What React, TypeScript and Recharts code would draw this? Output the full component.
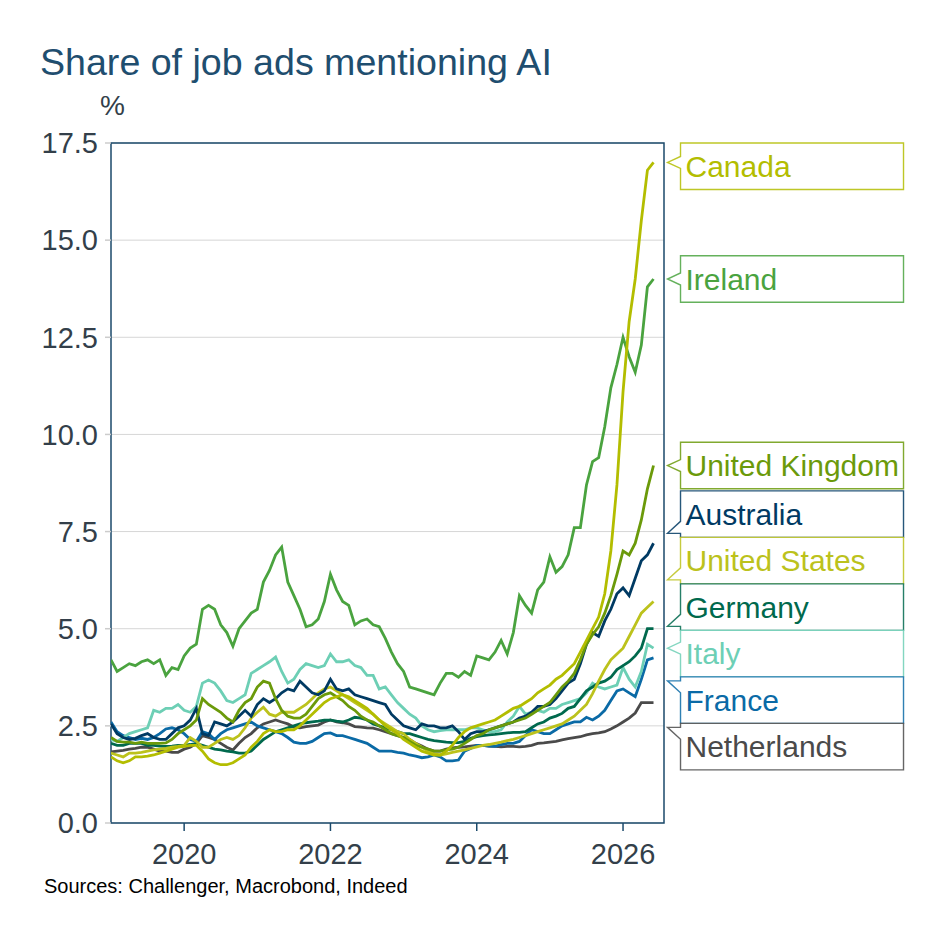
import React from "react";
import {
  LineChart,
  Line,
  XAxis,
  YAxis,
  CartesianGrid,
  ReferenceArea,
  ReferenceDot,
} from "recharts";

// ---------- DATA (monthly, starting Jan 2019) ----------
const START_YEAR = 2019;
const N_MONTHS = 90;
const dates: number[] = Array.from({ length: N_MONTHS }, (_, i) => START_YEAR + i / 12);

const xTicks = [2020, 2022, 2024, 2026];
const yTicks = [0, 2.5, 5, 7.5, 10, 12.5, 15, 17.5];

const canada = [
  1.7, 1.6, 1.55, 1.6, 1.7, 1.7, 1.72, 1.75, 1.8, 1.85, 1.9, 1.95,
  1.97, 2.0, 2.0, 1.85, 1.65, 1.55, 1.5, 1.5, 1.55, 1.65, 1.75, 1.95,
  2.1, 2.3, 2.4, 2.35, 2.35, 2.4, 2.4, 2.5, 2.65, 2.8, 2.95, 3.1,
  3.2, 3.25, 3.3, 3.25, 3.15, 3.05, 2.95, 2.8, 2.65, 2.5, 2.4, 2.3,
  2.15, 2.05, 1.95, 1.85, 1.8, 1.75, 1.75, 1.85, 2.0, 2.2, 2.35, 2.45,
  2.5, 2.55, 2.6, 2.65, 2.75, 2.85, 2.95, 3.0, 3.1, 3.2, 3.35, 3.45,
  3.55, 3.7, 3.8, 3.95, 4.1, 4.4, 4.7, 5.0, 5.3, 5.9, 7.0, 8.7,
  11.1, 12.9, 14.0, 15.5, 16.8, 17.0,
];
const ireland = [
  4.2, 3.9, 4.0, 4.1, 4.05, 4.15, 4.2, 4.1, 4.2, 3.8, 4.0, 3.95,
  4.3, 4.5, 4.6, 5.5, 5.6, 5.5, 5.1, 4.9, 4.55, 5.0, 5.2, 5.4,
  5.5, 6.2, 6.5, 6.9, 7.1, 6.2, 5.85, 5.5, 5.05, 5.1, 5.25, 5.7,
  6.4, 6.0, 5.7, 5.6, 5.1, 5.2, 5.25, 5.1, 5.05, 4.75, 4.4, 4.1,
  3.9, 3.5, 3.45, 3.4, 3.35, 3.3, 3.6, 3.85, 3.85, 3.75, 3.9, 3.8,
  4.3, 4.25, 4.2, 4.4, 4.7, 4.35, 4.9, 5.85, 5.6, 5.4, 6.0, 6.2,
  6.85, 6.45, 6.6, 6.9, 7.6, 7.6, 8.7, 9.3, 9.4, 10.2, 11.2, 11.8,
  12.5, 12.0, 11.6, 12.3, 13.8, 14.0,
];
const unitedKingdom = [
  2.2, 2.1, 2.08, 2.08, 2.05, 2.08, 2.05, 2.05, 2.05, 2.06, 2.15, 2.3,
  2.4, 2.5, 2.65, 3.2, 3.05, 2.95, 2.85, 2.7, 2.6, 2.9, 3.1, 3.2,
  3.5, 3.65, 3.6, 3.2, 2.9, 2.75, 2.7, 2.7, 2.8, 3.0, 3.2, 3.3,
  3.35, 3.25, 3.15, 3.0, 2.9, 2.75, 2.65, 2.6, 2.5, 2.4, 2.3, 2.25,
  2.2, 2.1, 2.0, 1.95, 1.9, 1.85, 1.85, 1.88, 1.9, 1.95, 2.05, 2.15,
  2.25, 2.3, 2.4, 2.45, 2.5, 2.55, 2.6, 2.65, 2.7, 2.8, 2.9, 3.0,
  3.1, 3.3, 3.5, 3.65, 3.85, 4.2, 4.6, 4.85, 5.05, 5.4, 5.85, 6.4,
  7.0, 6.9, 7.2, 7.8, 8.6, 9.2,
];
const australia = [
  2.55, 2.3, 2.2, 2.15, 2.18, 2.25, 2.3, 2.2, 2.15, 2.15, 2.3, 2.45,
  2.5, 2.65, 2.95, 2.3, 2.25, 2.6, 2.55, 2.5, 2.6, 2.75, 2.9, 2.75,
  3.05, 3.2, 3.1, 3.2, 3.35, 3.45, 3.4, 3.65, 3.5, 3.35, 3.3, 3.4,
  3.7, 3.45, 3.4, 3.45, 3.3, 3.25, 3.2, 3.15, 3.1, 3.05, 2.8, 2.65,
  2.5, 2.45, 2.4, 2.55, 2.5, 2.5, 2.45, 2.45, 2.5, 2.35, 2.15, 2.3,
  2.35, 2.35, 2.4, 2.45, 2.5, 2.55, 2.6, 2.7, 2.75, 2.85, 3.0, 3.0,
  3.05, 3.2, 3.4, 3.6, 3.7, 4.1, 4.6, 4.9, 4.8, 5.2, 5.5, 5.9,
  6.05, 5.85, 6.3, 6.75, 6.9, 7.2,
];
const unitedStates = [
  1.8, 1.75, 1.7, 1.8, 1.8, 1.82, 1.85, 1.88, 1.9, 1.92, 1.95, 1.97,
  2.0, 2.2, 2.1, 1.95, 1.95, 2.05, 2.15, 2.2, 2.15, 2.25, 2.45, 2.7,
  2.85, 2.98, 2.8, 2.75, 2.85, 2.85, 2.85, 2.95, 3.05, 3.2, 3.35, 3.45,
  3.5, 3.4, 3.3, 3.2, 3.1, 3.0, 2.9, 2.8, 2.65, 2.55, 2.45, 2.35,
  2.3, 2.15, 2.05, 1.95, 1.85, 1.78, 1.75, 1.78, 1.82, 1.85, 1.88, 1.92,
  1.96, 2.0, 2.02, 2.05, 2.08, 2.12, 2.15, 2.2, 2.25, 2.3, 2.35, 2.4,
  2.45, 2.5, 2.55, 2.65, 2.75, 2.9, 3.05, 3.33, 3.65, 3.95, 4.2, 4.35,
  4.5, 4.8, 5.1, 5.4, 5.55, 5.7,
];
const germany = [
  2.05, 2.0, 2.0, 2.05, 2.05, 2.05, 2.0, 2.0, 1.98, 1.97, 1.98, 2.0,
  2.0, 2.02, 2.05, 2.0, 1.95, 1.9, 1.88, 1.85, 1.83, 1.8, 1.8, 1.85,
  2.0, 2.15, 2.25, 2.35, 2.4, 2.45, 2.5, 2.55, 2.58, 2.6, 2.62, 2.65,
  2.65, 2.62, 2.6, 2.65, 2.72, 2.7, 2.65, 2.55, 2.5, 2.45, 2.4, 2.35,
  2.3, 2.3, 2.25, 2.2, 2.15, 2.12, 2.1, 2.08, 2.07, 2.07, 2.1, 2.18,
  2.22, 2.25, 2.27, 2.28, 2.3, 2.32, 2.33, 2.33, 2.35, 2.45, 2.55, 2.6,
  2.7, 2.75, 2.82, 2.95, 3.0, 3.2, 3.4, 3.5, 3.6, 3.65, 3.75, 3.95,
  4.05, 4.15, 4.3, 4.5, 5.0, 5.0,
];
const italy = [
  2.15, 2.1, 2.2, 2.3, 2.35, 2.4, 2.45, 2.9, 2.85, 2.95, 2.95, 3.05,
  2.9, 2.85, 3.0, 3.6, 3.68, 3.6, 3.4, 3.15, 3.1, 3.2, 3.3, 3.85,
  3.95, 4.05, 4.15, 4.27, 3.9, 3.6, 3.7, 3.95, 4.1, 4.05, 4.0, 4.05,
  4.35, 4.15, 4.15, 4.2, 4.05, 4.0, 3.8, 3.8, 3.45, 3.5, 3.3, 3.1,
  2.95, 2.8, 2.7, 2.5, 2.4, 2.35, 2.38, 2.4, 2.4, 2.4, 2.4, 2.45,
  2.45, 2.4, 2.35, 2.35, 2.4, 2.6, 2.75, 3.0, 2.8, 2.85, 2.9, 2.85,
  2.95, 2.95, 3.05, 3.1, 3.15, 3.2, 3.35, 3.6, 3.5, 3.45, 3.5, 3.55,
  4.0, 3.7, 3.5, 3.9, 4.6, 4.5,
];
const france = [
  2.6, 2.35, 2.25, 2.2, 2.15, 2.18, 2.15, 2.2, 2.3, 2.42, 2.45, 2.4,
  2.3, 2.15, 2.1, 2.35, 2.3, 2.15, 2.3, 2.4, 2.45, 2.5, 2.55, 2.6,
  2.5, 2.45, 2.4, 2.35, 2.3, 2.2, 2.08, 2.05, 2.05, 2.1, 2.2, 2.3,
  2.32, 2.25, 2.25, 2.2, 2.15, 2.1, 2.05, 1.95, 1.85, 1.85, 1.85, 1.82,
  1.8, 1.75, 1.72, 1.68, 1.7, 1.75, 1.7, 1.6, 1.6, 1.62, 1.85, 1.92,
  2.0, 2.0, 1.98, 1.97, 2.02, 2.05, 2.05, 2.1, 2.25, 2.4, 2.35, 2.3,
  2.3, 2.4, 2.5, 2.55, 2.6, 2.6, 2.72, 2.65, 2.75, 2.9, 3.15, 3.4,
  3.45, 3.35, 3.25, 3.7, 4.2, 4.25,
];
const netherlands = [
  1.83, 1.85, 1.87, 1.9, 1.92, 1.95, 1.95, 1.9, 1.85, 1.85, 1.82, 1.82,
  1.9, 1.95, 2.05, 2.25, 2.2, 2.15, 2.05, 1.95, 1.88, 2.05, 2.2, 2.3,
  2.45, 2.55, 2.6, 2.65, 2.6, 2.55, 2.47, 2.45, 2.48, 2.5, 2.52, 2.6,
  2.65, 2.6, 2.58, 2.55, 2.48, 2.47, 2.45, 2.44, 2.4, 2.35, 2.3, 2.25,
  2.2, 2.15, 2.05, 1.98, 1.9, 1.85, 1.85, 1.9, 1.93, 1.95, 1.96, 1.98,
  2.0, 2.0, 1.98, 1.97, 1.96, 1.97, 1.97, 1.96, 1.97, 2.0, 2.05, 2.06,
  2.08, 2.1, 2.14, 2.17, 2.2, 2.22, 2.27, 2.3, 2.32, 2.35, 2.42, 2.5,
  2.6, 2.7, 2.83, 3.1, 3.1, 3.1,
];

const seriesNames = [
  "Canada", "Ireland", "United Kingdom", "Australia", "United States",
  "Germany", "Italy", "France", "Netherlands",
];
const seriesKeys = ["ca", "ie", "uk", "au", "us", "de", "it", "fr", "nl"];
const seriesValues = [
  canada, ireland, unitedKingdom, australia, unitedStates,
  germany, italy, france, netherlands,
];
const seriesColors = [
  "#b3bd00", "#4aa33f", "#6b9a0a", "#003a63", "#bcc21c",
  "#00694d", "#6dcfb5", "#0a6aa6", "#4a4a4a",
];
// draw order (bottom to top)
const drawOrder = [8, 7, 6, 5, 4, 3, 2, 1, 0];

const rows = dates.map((t, i) => {
  const r: Record<string, number> = { t };
  seriesKeys.forEach((k, s) => {
    r[k] = seriesValues[s][i];
  });
  return r;
});

// ---------- LAYOUT ----------
const FONT = "'Liberation Sans', Arial, Helvetica, sans-serif";
const W = 943;
const H = 943;
const M_TOP = 143;
const M_RIGHT = 279;
const Y_AXIS_W = 111;
const X_AXIS_H = 120;
const PLOT_H = H - M_TOP - X_AXIS_H;
const X_MIN = 2019;
const X_MAX = 2026.56;
const Y_MAX = 17.5;
const PX_PER_UNIT = PLOT_H / Y_MAX;
const BOX_H = 46.5;
const BOX_W = 223;
const NAVY = "#1b4a6b";
const TICK_TEXT = "#333f4a";

// label de-overlap (pixel offsets relative to each line's last point)
function labelOffsets(): number[] {
  const last = seriesValues.map((v) => v[v.length - 1]);
  const desired = last.map((v) => M_TOP + (Y_MAX - v) * PX_PER_UNIT);
  const order = desired.map((_, i) => i).sort((a, b) => desired[a] - desired[b]);
  const centerOf = (members: number[]) => {
    const mean = members.reduce((s, i) => s + desired[i], 0) / members.length;
    return Math.max(mean, M_TOP + (members.length * BOX_H) / 2);
  };
  let groups = order.map((i) => ({ members: [i], center: centerOf([i]) }));
  let changed = true;
  while (changed) {
    changed = false;
    for (let g = 0; g < groups.length - 1; g++) {
      const a = groups[g];
      const b = groups[g + 1];
      const aBottom = a.center + (a.members.length * BOX_H) / 2;
      const bTop = b.center - (b.members.length * BOX_H) / 2;
      if (aBottom > bTop + 0.01) {
        const members = [...a.members, ...b.members];
        groups.splice(g, 2, { members, center: centerOf(members) });
        changed = true;
        break;
      }
    }
  }
  const offsets = new Array(seriesValues.length).fill(0);
  groups.forEach((g) => {
    const n = g.members.length;
    g.members.forEach((idx, k) => {
      const pos = g.center - ((n - 1) * BOX_H) / 2 + k * BOX_H;
      offsets[idx] = pos - desired[idx];
    });
  });
  return offsets;
}
const OFFSETS = labelOffsets();

function Callout(props: any) {
  const { cx, cy, offset, color, name } = props;
  if (cx == null || cy == null) return null;
  const boxCy = cy + offset;
  const top = boxCy - BOX_H / 2;
  const bottom = boxCy + BOX_H / 2;
  const left = cx + 27;
  const right = left + BOX_W;
  const tipX = cx + 14;
  const tipY = Math.min(Math.max(cy, top + 4), bottom - 4);
  const base = Math.min(Math.max(cy, top + 10), bottom - 10);
  const b1 = base - 6;
  const b2 = base + 6;
  const d = `M${left},${top} H${right} V${bottom} H${left} V${b2} L${tipX},${tipY} L${left},${b1} Z`;
  return (
    <g>
      <path d={d} fill="#ffffff" stroke={color} strokeOpacity={0.85} strokeWidth={1.4} />
      <text
        x={left + 5}
        y={boxCy + 10.5}
        fontSize={30}
        fontFamily={FONT}
        fill={color}
      >
        {name}
      </text>
    </g>
  );
}

export default function App() {
  return (
    <div
      style={{
        position: "absolute",
        left: 0,
        top: 0,
        width: W,
        height: H,
        background: "#ffffff",
        fontFamily: FONT,
      }}
    >
      <svg
        width={W}
        height={H}
        style={{ position: "absolute", left: 0, top: 0, pointerEvents: "none" }}
      >
        <text x={40} y={75} fontSize={37.6} fill="#1f4e6f" fontFamily={FONT}>
          Share of job ads mentioning AI
        </text>
        <text x={100} y={115} fontSize={28} fill={TICK_TEXT} fontFamily={FONT}>
          %
        </text>
        <text x={44} y={893} fontSize={20} fill="#000000" fontFamily={FONT}>
          Sources: Challenger, Macrobond, Indeed
        </text>
      </svg>
      <div style={{ position: "absolute", left: 0, top: 0 }}>
        <LineChart
          width={W}
          height={H}
          data={rows}
          margin={{ top: M_TOP, right: M_RIGHT, bottom: 0, left: 0 }}
        >
          <CartesianGrid vertical={false} stroke="#d6d6d6" strokeWidth={1} />
          <XAxis
            dataKey="t"
            type="number"
            domain={[X_MIN, X_MAX]}
            ticks={xTicks}
            allowDataOverflow
            height={X_AXIS_H}
            axisLine={false}
            tickLine={{ stroke: NAVY, strokeWidth: 1.5 }}
            tickSize={8}
            tickMargin={12}
            tick={{ fontSize: 29, fill: TICK_TEXT, fontFamily: FONT }}
            interval={0}
          />
          <YAxis
            type="number"
            domain={[0, Y_MAX]}
            ticks={yTicks}
            width={Y_AXIS_W}
            axisLine={false}
            tickLine={{ stroke: "#cccccc", strokeWidth: 1.5 }}
            tickSize={6}
            tickMargin={7}
            tickFormatter={(v: number) => v.toFixed(1)}
            tick={{ fontSize: 29, fill: TICK_TEXT, fontFamily: FONT }}
            interval={0}
          />
          <ReferenceArea
            x1={X_MIN}
            x2={X_MAX}
            y1={0}
            y2={Y_MAX}
            fill="none"
            fillOpacity={0}
            stroke={NAVY}
            strokeWidth={1.5}
            ifOverflow="visible"
          />
          {drawOrder.map((s) => (
            <Line
              key={seriesKeys[s]}
              dataKey={seriesKeys[s]}
              type="linear"
              stroke={seriesColors[s]}
              strokeWidth={2.8}
              dot={false}
              activeDot={false}
              isAnimationActive={false}
            />
          ))}
          {seriesKeys.map((k, s) => (
            <ReferenceDot
              key={"lbl-" + k}
              x={dates[dates.length - 1]}
              y={seriesValues[s][seriesValues[s].length - 1]}
              r={0}
              ifOverflow="visible"
              shape={(p: any) => (
                <Callout
                  cx={p.cx}
                  cy={p.cy}
                  offset={OFFSETS[s]}
                  color={seriesColors[s]}
                  name={seriesNames[s]}
                />
              )}
            />
          ))}
        </LineChart>
      </div>
    </div>
  );
}
